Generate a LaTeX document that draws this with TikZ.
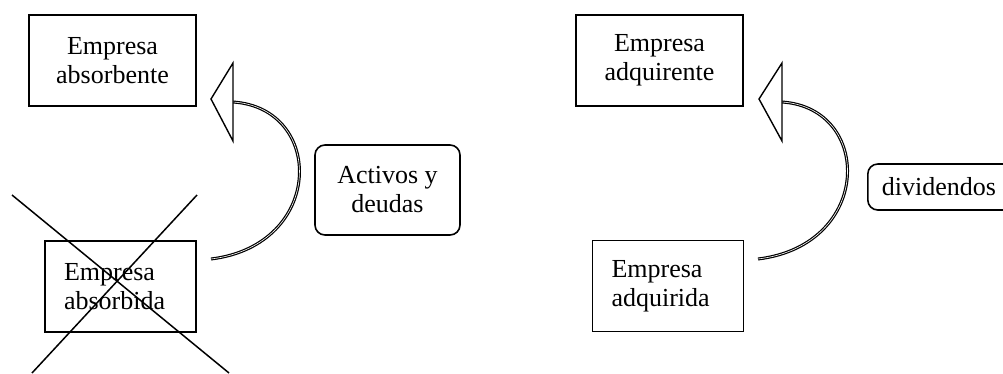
\documentclass[tikz,border=0pt]{standalone}
\usepackage{fontspec}
\setmainfont{Liberation Serif}
\begin{document}
\begin{tikzpicture}[x=1pt,y=-1pt,
  every node/.style={font=\fontsize{26}{29}\selectfont},
  boxc/.style={draw,line width=1.6pt,minimum width=167pt,minimum height=91pt,align=center,inner sep=0pt},
  boxl/.style={draw,line width=1.6pt,minimum height=91pt,text width=113pt,inner xsep=19pt,inner ysep=0pt,align=left},
  roundbox/.style={draw,line width=1.6pt,rounded corners=10pt,align=center,inner sep=0pt},
  flow/.style={line width=1.2pt,double,double distance=0.6pt},
  head/.style={draw,line width=1.4pt,fill=white,line join=miter},
  crossline/.style={line width=1.5pt}]
\useasboundingbox (0,0) rectangle (1003,373);
% left side
\node[boxc] (absorbente) at (112.5,60.5) {Empresa\\absorbente};
\node[boxl,minimum width=151pt] (absorbida) at (120.5,286.5) {Empresa\\absorbida};
\node[roundbox,minimum width=145pt,minimum height=90pt] (activos) at (387.5,190) {Activos y\\deudas};
\coordinate (a1) at (233,102);
\coordinate (a2) at (211,259);
\draw[flow] (a2) .. controls (325,245) and (325,108) .. (a1);
\coordinate (t1) at (211,99);
\coordinate (t2) at (233,63);
\coordinate (t3) at (233,141);
\draw[head] (t1) -- (t2) -- (t3) -- cycle;
\coordinate (c1) at (12,195);
\coordinate (c2) at (229,373);
\coordinate (c3) at (197,195);
\coordinate (c4) at (32,373);
\draw[crossline] (c1) -- (c2);
\draw[crossline] (c3) -- (c4);
% right side
\node[boxc] (adquirente) at (659.5,60.5) {Empresa\\adquirente};
\node[boxl,minimum width=150pt] (adquirida) at (668,286) {Empresa\\adquirida};
\node[roundbox,minimum width=160pt,minimum height=46pt,text width=146pt,align=left,inner xsep=14pt,anchor=west] (dividendos) at (867,187) {dividendos};
\coordinate (b1) at (782,102);
\coordinate (b2) at (758,259);
\draw[flow] (b2) .. controls (873,245) and (873,108) .. (b1);
\coordinate (u1) at (759,99);
\coordinate (u2) at (782,63);
\coordinate (u3) at (782,141);
\draw[head] (u1) -- (u2) -- (u3) -- cycle;
\end{tikzpicture}
\end{document}
